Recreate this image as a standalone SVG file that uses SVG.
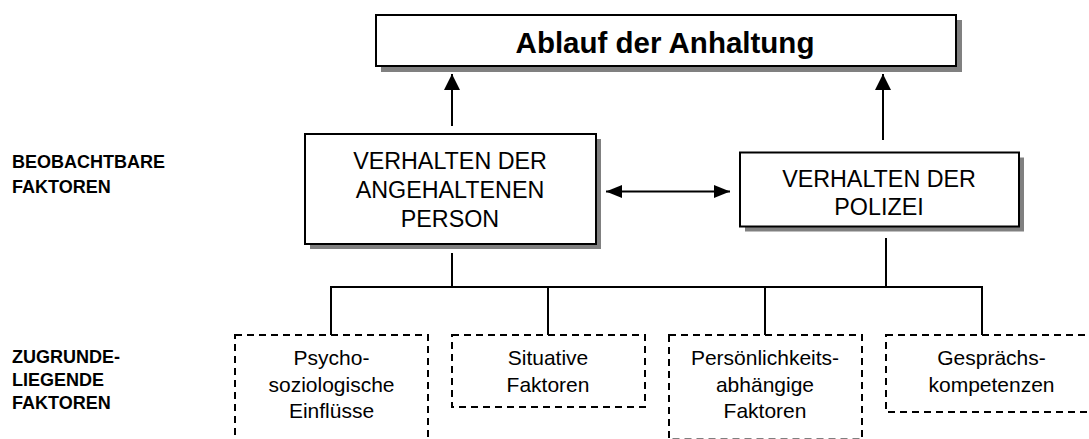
<svg xmlns="http://www.w3.org/2000/svg" width="1089" height="439" viewBox="0 0 1089 439">
  <style>
    text { font-family: "Liberation Sans", Arial, sans-serif; fill: #000; text-anchor: middle; }
    .title { font-size: 29.5px; font-weight: bold; }
    .mid { font-size: 23.3px; }
    .low { font-size: 21px; }
    .side { font-size: 18px; font-weight: bold; text-anchor: start; }
    .box { fill: #fff; stroke: #000; stroke-width: 2; }
    .shadow { fill: #808080; stroke: none; }
    .dash { fill: #fff; stroke: #000; stroke-width: 2; stroke-dasharray: 7 5; }
    .conn { fill: none; stroke: #000; stroke-width: 2; }
  </style>
  <defs>
    <marker id="ah" markerUnits="userSpaceOnUse" markerWidth="18" markerHeight="16" refX="16" refY="8" orient="auto-start-reverse">
      <path d="M0,0 L16,8 L0,16 Z" fill="#000"/>
    </marker>
    <marker id="ah2" markerUnits="userSpaceOnUse" markerWidth="18" markerHeight="14" refX="16" refY="6.5" orient="auto-start-reverse">
      <path d="M0,0 L16,6.5 L0,13 Z" fill="#000"/>
    </marker>
  </defs>

  <g id="labels">
    <text class="side" x="12" y="168">BEOBACHTBARE</text>
    <text class="side" x="12" y="192.5">FAKTOREN</text>
    <text class="side" x="12" y="362.5">ZUGRUNDE-</text>
    <text class="side" x="12" y="385.5">LIEGENDE</text>
    <text class="side" x="12" y="408.5">FAKTOREN</text>
  </g>

  <g id="connectors">
    <line class="conn" x1="452" y1="126" x2="452" y2="74" marker-end="url(#ah)"/>
    <line class="conn" x1="883" y1="140" x2="883" y2="74" marker-end="url(#ah)"/>
    <line class="conn" x1="606" y1="191.5" x2="730" y2="191.5" marker-start="url(#ah2)" marker-end="url(#ah2)"/>
    <line class="conn" x1="452" y1="253" x2="452" y2="287"/>
    <line class="conn" x1="886" y1="238" x2="886" y2="287"/>
    <line class="conn" x1="330" y1="287" x2="983" y2="287"/>
    <line class="conn" x1="331" y1="287" x2="331" y2="335"/>
    <line class="conn" x1="548" y1="287" x2="548" y2="335"/>
    <line class="conn" x1="765" y1="287" x2="765" y2="335"/>
    <line class="conn" x1="982" y1="287" x2="982" y2="335"/>
  </g>

  <g id="node-ablauf">
    <rect class="shadow" x="381" y="20" width="581" height="52"/>
    <rect class="box" x="376" y="15" width="580" height="51"/>
    <text class="title" x="665" y="53">Ablauf der Anhaltung</text>
  </g>

  <g id="node-person">
    <rect class="shadow" x="310" y="139" width="291" height="110"/>
    <rect class="box" x="305" y="134" width="291" height="110"/>
    <text class="mid" x="450" y="169">VERHALTEN DER</text>
    <text class="mid" x="450" y="198">ANGEHALTENEN</text>
    <text class="mid" x="450" y="226.5">PERSON</text>
  </g>

  <g id="node-polizei">
    <rect class="shadow" x="745" y="157.5" width="279" height="74"/>
    <rect class="box" x="740" y="152.5" width="279" height="74"/>
    <text class="mid" x="879" y="186.5">VERHALTEN DER</text>
    <text class="mid" x="879" y="215">POLIZEI</text>
  </g>

  <g id="node-psycho">
    <rect class="dash" x="235" y="335" width="193" height="115"/>
    <text class="low" x="331.5" y="365">Psycho-</text>
    <text class="low" x="331.5" y="391.5">soziologische</text>
    <text class="low" x="331.5" y="418">Einflüsse</text>
  </g>

  <g id="node-situativ">
    <rect class="dash" x="452" y="335" width="193" height="72"/>
    <text class="low" x="548" y="365">Situative</text>
    <text class="low" x="548" y="391.5">Faktoren</text>
  </g>

  <g id="node-persoenlichkeit">
    <rect class="dash" x="669" y="335" width="193" height="104.5"/>
    <text class="low" x="765" y="365">Persönlichkeits-</text>
    <text class="low" x="765" y="391.5">abhängige</text>
    <text class="low" x="765" y="418">Faktoren</text>
  </g>

  <g id="node-gespraech">
    <rect class="dash" x="886" y="335" width="212" height="77"/>
    <text class="low" x="991.5" y="365">Gesprächs-</text>
    <text class="low" x="991.5" y="391.5">kompetenzen</text>
  </g>
</svg>
